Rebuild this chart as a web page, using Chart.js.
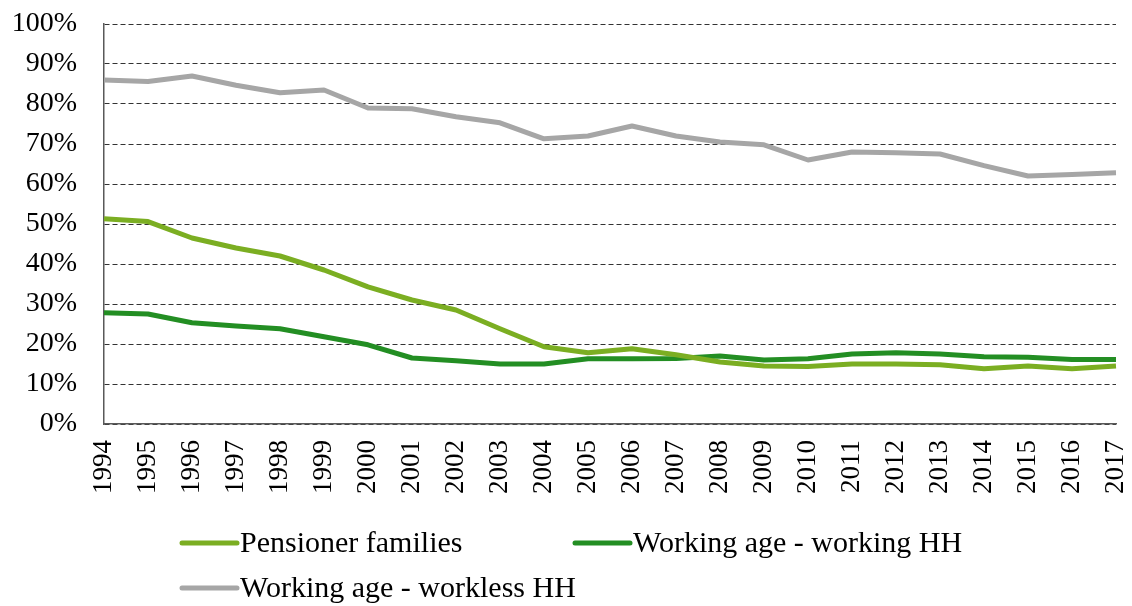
<!DOCTYPE html>
<html>
<head>
<meta charset="utf-8">
<script src="https://cdn.jsdelivr.net/npm/chart.js@4"></script>
<style>
  body { margin: 0; background: #fff; }
  canvas { display: block; }
</style>
</head>
<body>
<canvas id="grafico" width="1132" height="606"></canvas>
<script>
const anos = ['1994','1995','1996','1997','1998','1999','2000','2001','2002','2003','2004','2005',
              '2006','2007','2008','2009','2010','2011','2012','2013','2014','2015','2016','2017'];

const pensionistas = [51.3, 50.6, 46.5, 44, 42, 38.5, 34.3, 31, 28.5, 23.8, 19.3, 17.8,
                      18.8, 17.3, 15.5, 14.5, 14.4, 15, 15, 14.8, 13.8, 14.5, 13.8, 14.5];

const trabalhando = [27.8, 27.5, 25.3, 24.5, 23.8, 21.8, 19.8, 16.5, 15.8, 15, 15, 16.3,
                     16.3, 16.4, 17, 16, 16.3, 17.5, 17.8, 17.5, 16.8, 16.7, 16.1, 16.1];

const semTrabalho = [86, 85.6, 87, 84.7, 82.8, 83.5, 79, 78.8, 76.8, 75.3, 71.3, 72,
                     74.5, 72, 70.5, 69.8, 66, 68, 67.8, 67.5, 64.6, 62, 62.4, 62.8];

const rotulos = ['Pensioner families', 'Working age - working HH', 'Working age - workless HH'];
const cores = ['#7BAE22', '#238E23', '#A6A6A6'];

const fonte = 'Liberation Serif, Times New Roman, serif';

// legenda desenhada à mão, em duas linhas como no original
const legendaManual = {
    id: 'legendaManual',
    afterDraw(chart) {
        const ctx = chart.ctx;
        const colunas = [182, 575];
        const linhas = [543, 588];
        ctx.save();
        ctx.font = '30px ' + fonte;
        ctx.textBaseline = 'middle';
        chart.data.datasets.forEach((ds, i) => {
            const x = colunas[i % 2];
            const y = linhas[Math.floor(i / 2)];
            ctx.strokeStyle = ds.borderColor;
            ctx.lineWidth = 5;
            ctx.lineCap = 'round';
            ctx.beginPath();
            ctx.moveTo(x, y);
            ctx.lineTo(x + 55, y);
            ctx.stroke();
            ctx.fillStyle = '#000';
            ctx.fillText(ds.label, x + 58, y + 1);
        });
        ctx.restore();
    }
};

const series = [pensionistas, trabalhando, semTrabalho];

new Chart(document.getElementById('grafico'), {
    type: 'line',
    data: {
        labels: anos,
        datasets: series.map((valores, i) => ({
            label: rotulos[i],
            data: valores,
            borderColor: cores[i],
            borderWidth: 5,
            pointRadius: 0,
            tension: 0,
            borderJoinStyle: 'round'
        }))
    },
    options: {
        responsive: false,
        animation: false,
        layout: { padding: { top: 24, right: 16, bottom: 0, left: 0 } },
        plugins: {
            legend: { display: false },
            tooltip: { enabled: false }
        },
        scales: {
            x: {
                offset: false,
                grid: { display: false },
                border: { display: true, color: '#595959', width: 1.5 },
                ticks: {
                    autoSkip: false,
                    minRotation: 90,
                    maxRotation: 90,
                    padding: 8,
                    color: '#000',
                    font: { family: fonte, size: 27 }
                },
                afterFit(scale) {
                    scale.height = 182;
                    scale.paddingLeft = 0;
                    scale.paddingRight = 0;
                }
            },
            y: {
                min: 0,
                max: 100,
                grid: { color: '#333', lineWidth: 1, drawTicks: false },
                border: { display: true, color: '#595959', width: 1.5, dash: [5, 3] },
                ticks: {
                    stepSize: 10,
                    padding: 27,
                    color: '#000',
                    font: { family: fonte, size: 28 },
                    callback: v => v + '%'
                },
                afterFit(scale) {
                    scale.width = 104;
                    scale.paddingTop = 0;
                    scale.paddingBottom = 0;
                }
            }
        }
    },
    plugins: [legendaManual]
});
</script>
</body>
</html>
